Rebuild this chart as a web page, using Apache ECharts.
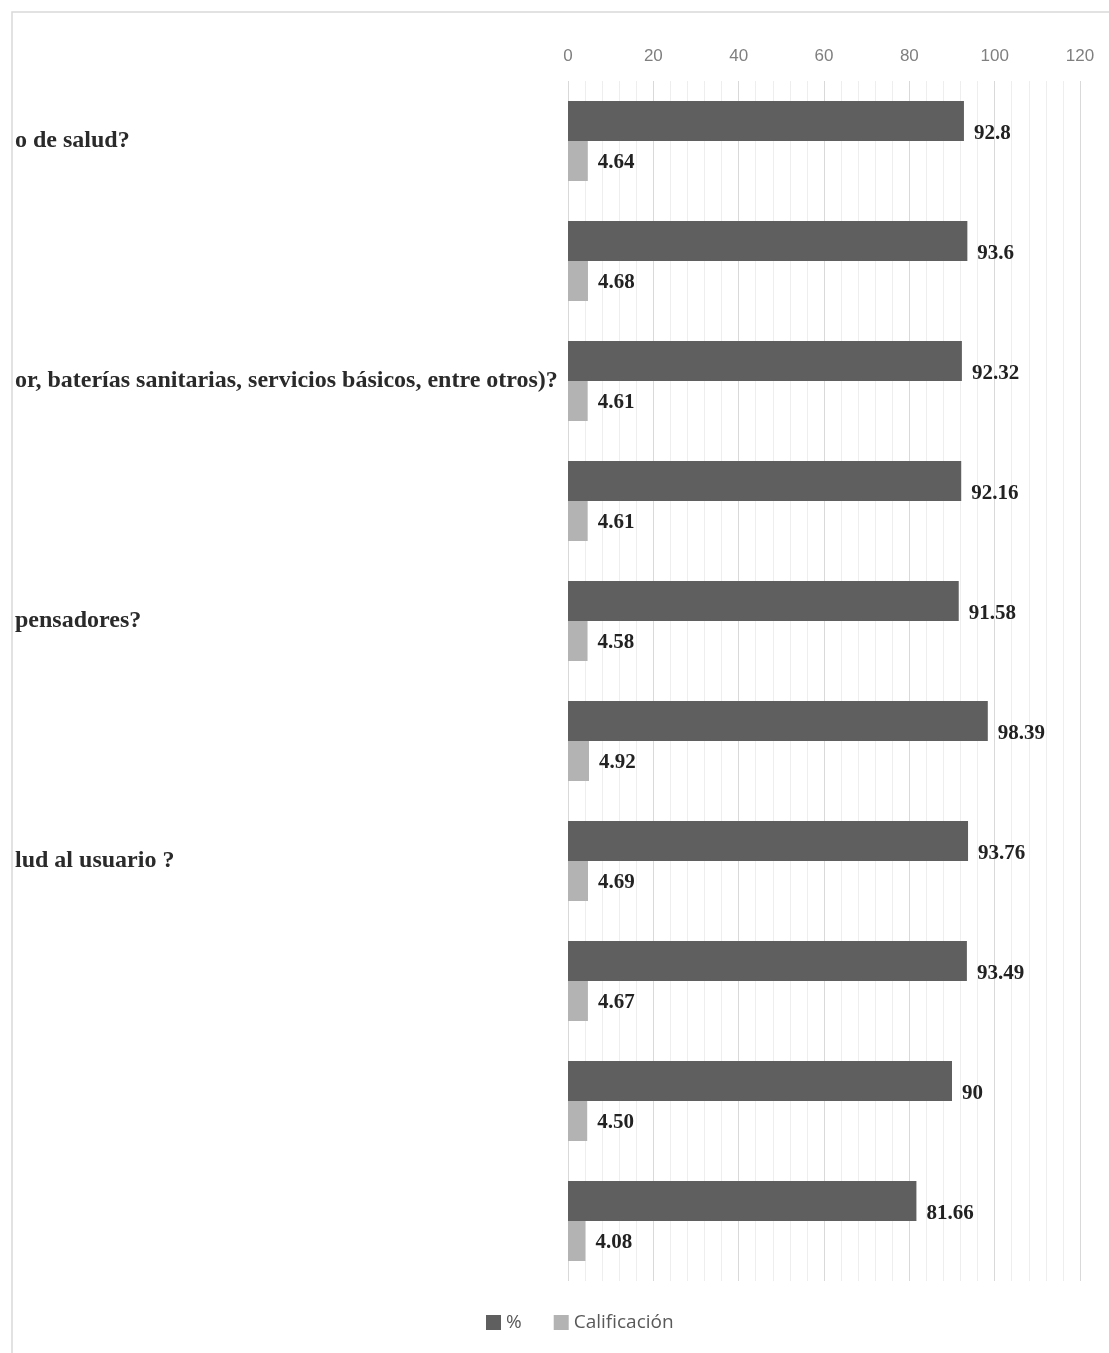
<!DOCTYPE html>
<html>
<head>
<meta charset="utf-8">
<script src="https://cdn.jsdelivr.net/npm/echarts@6/dist/echarts.min.js"></script>
<style>
  html, body { margin: 0; padding: 0; background: #fff; }
  #main { width: 1109px; height: 1353px; }
</style>
</head>
<body>
<div id="main"></div>
<script>
// preguntas (solo se ve el final del texto en la imagen)
var preguntas = [
  'o de salud?',
  '',
  'or, baterías sanitarias, servicios básicos, entre otros)?',
  '',
  'pensadores?',
  '',
  'lud al usuario ?',
  '',
  '',
  ''
];
var porcentaje = [92.8, 93.6, 92.32, 92.16, 91.58, 98.39, 93.76, 93.49, 90, 81.66];
var calificacion = [4.64, 4.68, 4.61, 4.61, 4.58, 4.92, 4.69, 4.67, 4.50, 4.08];
var nombres = ['%', 'Calificación'];

var chartDom = document.getElementById('main');
var myChart = echarts.init(chartDom);

var lblStyle = {
  show: true,
  position: 'right',
  distance: 10,
  color: '#222',
  fontFamily: 'Liberation Serif',
  fontWeight: 'bold',
  fontSize: 21
};

var option = {
  animation: false,
  grid: { left: 568, right: 29, top: 81, bottom: 72 },
  //marco del gráfico
  graphic: [{
    type: 'rect',
    shape: { x: 12, y: 12, width: 1200, height: 1400 },
    style: { fill: 'none', stroke: '#d9d9d9', lineWidth: 1.5 },
    silent: true
  }],
  legend: {
    bottom: 16,
    left: 481,
    itemWidth: 15,
    itemHeight: 15,
    itemGap: 32,
    icon: 'rect',
    textStyle: { color: '#595959', fontSize: 19, fontFamily: 'Open Sans' },
    data: nombres
  },
  xAxis: {
    type: 'value',
    position: 'top',
    min: 0,
    max: 120,
    interval: 20,
    axisLine: { show: false },
    axisTick: { show: false },
    axisLabel: { color: '#7f7f7f', fontSize: 17, fontFamily: 'Liberation Sans', margin: 16 },
    splitLine: { show: true, lineStyle: { color: '#d9d9d9', width: 1 } },
    minorTick: { show: false, splitNumber: 5 },
    minorSplitLine: { show: true, lineStyle: { color: '#eeeeee', width: 1 } }
  },
  yAxis: {
    type: 'category',
    inverse: true,
    data: preguntas,
    axisLine: { show: false },
    axisTick: { show: false },
    axisLabel: {
      align: 'left',
      margin: 553,
      padding: [6, 0, 0, 0],
      color: '#2a2a2a',
      fontFamily: 'Liberation Serif',
      fontWeight: 'bold',
      fontSize: 24
    }
  },
  series: [
    {
      name: nombres[0],
      type: 'bar',
      data: porcentaje,
      barWidth: 40,
      barGap: '0%',
      itemStyle: { color: '#5f5f5f' },
      label: Object.assign({}, lblStyle, { offset: [0, 13] })
    },
    {
      name: nombres[1],
      type: 'bar',
      data: calificacion,
      barWidth: 40,
      barGap: '0%',
      itemStyle: { color: '#b3b3b3' },
      label: Object.assign({}, lblStyle, {
        offset: [0, 2],
        formatter: function (p) { return p.value.toFixed(2); }
      })
    }
  ]
};

option && myChart.setOption(option);
</script>
</body>
</html>
